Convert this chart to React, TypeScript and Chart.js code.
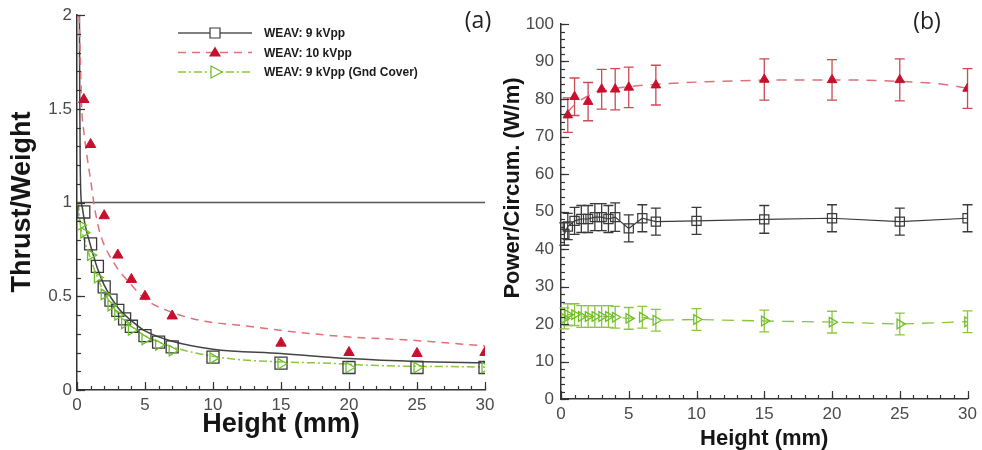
import React, { useEffect, useRef } from "react";
import { Chart, registerables } from "chart.js";

Chart.register(...registerables);

// ---------- Panel (a): Thrust/Weight vs Height ----------
const aBlackX = [0.5, 1, 1.5, 2, 2.5, 3, 3.5, 4, 5, 6, 7, 10, 15, 20, 25, 30];
const aBlackY = [0.95, 0.78, 0.66, 0.55, 0.48, 0.425, 0.38, 0.34, 0.29, 0.255, 0.23, 0.175, 0.143, 0.12, 0.12, 0.12];
const aRedX = [0.5, 1, 2, 3, 4, 5, 7, 15, 20, 25, 30];
const aRedY = [1.55, 1.31, 0.93, 0.72, 0.59, 0.5, 0.395, 0.25, 0.2, 0.195, 0.2];
const aGreenX = [0.25, 0.5, 1, 1.5, 2, 2.5, 3, 3.5, 4, 5, 6, 7, 10, 15, 20, 25, 30];
const aGreenY = [0.88, 0.84, 0.72, 0.6, 0.51, 0.45, 0.4, 0.355, 0.32, 0.27, 0.24, 0.21, 0.17, 0.14, 0.12, 0.12, 0.12];

const aBlackFitX = [0.18, 0.2, 0.23, 0.28, 0.4, 0.6, 1, 1.5, 2, 3, 4, 5, 7, 10, 15, 20, 25, 30];
const aBlackFitY = [2.0, 1.6, 1.25, 1.05, 0.97, 0.88, 0.77, 0.65, 0.56, 0.44, 0.37, 0.315, 0.26, 0.218, 0.195, 0.168, 0.152, 0.145];
const aRedFitX = [0.15, 0.25, 0.35, 0.5, 0.75, 1, 1.3, 1.7, 2.7, 4, 5.1, 6.6, 9, 12, 16, 20, 24.5, 30];
const aRedFitY = [2.0, 1.75, 1.5, 1.38, 1.24, 1.12, 0.97, 0.835, 0.68, 0.56, 0.48, 0.425, 0.372, 0.345, 0.31, 0.283, 0.266, 0.235];
const aGreenFitX = [0.1, 0.25, 0.5, 1, 1.5, 2, 3, 4, 5, 7, 10, 12.3, 15, 18.8, 22.3, 28.4, 30];
const aGreenFitY = [1.0, 0.88, 0.81, 0.7, 0.6, 0.52, 0.41, 0.34, 0.29, 0.23, 0.18, 0.16, 0.15, 0.142, 0.13, 0.124, 0.122];
const aRefX = [0, 30];
const aRefY = [1, 1];

const aXTicks = [0, 5, 10, 15, 20, 25, 30];
const aYTicks = [0, 0.5, 1, 1.5, 2];

const legendLabels = ["WEAV: 9 kVpp", "WEAV: 10 kVpp", "WEAV: 9 kVpp (Gnd Cover)"];

// ---------- Panel (b): Power/Circum. vs Height ----------
const bBlackX = [0.25, 0.5, 1, 1.5, 2, 2.5, 3, 3.5, 4, 5, 6, 7, 10, 15, 20, 25, 30];
const bBlackY = [44, 46, 47.5, 48, 48, 48.5, 48.5, 48, 48.5, 45.5, 48.2, 47.3, 47.5, 47.9, 48.2, 47.3, 48.2];
const bBlackErr = [3, 3.5, 3.6, 3.6, 3.6, 3.6, 3.6, 3.6, 3.8, 3.6, 3.6, 3.6, 3.6, 3.7, 3.6, 3.6, 3.6];
const bGreenX = [0.25, 0.5, 1, 1.5, 2, 2.5, 3, 3.5, 4, 5, 6, 7, 10, 15, 20, 25, 30];
const bGreenY = [21.5, 22.5, 22.5, 22, 22, 22, 22, 22, 21.8, 21.5, 21.8, 21, 21.2, 20.8, 20.5, 20, 20.6];
const bGreenErr = [2.8, 2.9, 2.9, 2.9, 2.9, 2.9, 2.9, 2.9, 2.9, 2.9, 2.9, 2.9, 2.9, 2.9, 2.9, 2.9, 2.9];
const bRedX = [0.5, 1, 2, 3, 4, 5, 7, 15, 20, 25, 30];
const bRedY = [75.7, 80.6, 79.3, 82.6, 82.6, 83.1, 83.7, 85.2, 85.1, 85.1, 82.8];
const bRedErr = [4.6, 5, 5.1, 5.3, 5.5, 5.4, 5.3, 5.5, 5.4, 5.6, 5.3];
const bRedFitX = [0.5, 1, 2, 3, 4, 5, 7, 10, 15, 20, 25, 28, 30];
const bRedFitY = [76.5, 78.5, 80.8, 82, 82.8, 83.3, 83.9, 84.5, 85, 85.1, 84.7, 84, 82.9];

const bXTicks = [0, 5, 10, 15, 20, 25, 30];
const bYTicks = [0, 10, 20, 30, 40, 50, 60, 70, 80, 90, 100];

const zip = (xs: number[], ys: number[]) => xs.map((x, i) => ({ x, y: ys[i] }));

const FONT = "'Liberation Sans', Arial, Helvetica, sans-serif";
const BLACK = "#3a3a3a";
const RED = "#c8102e";
const RED_LINE = "#e0707a";
const GREEN = "#6cbf2a";
const GREEN_LINE = "#8cc63f";

// ---------- plugins ----------
const decorPlugin = {
  id: "decor",
  afterDraw(chart: any, _args: any, opts: any) {
    const { ctx, chartArea: ca, scales } = chart;
    const xs = scales.x;
    const ys = scales.y;
    ctx.save();
    ctx.strokeStyle = "#333";
    ctx.lineWidth = 1.2;
    const tickX = (v: number, len: number) => {
      const p = Math.round(xs.getPixelForValue(v)) + 0.5;
      ctx.beginPath();
      ctx.moveTo(p, ca.bottom);
      ctx.lineTo(p, ca.bottom - len);
      ctx.stroke();
    };
    const tickY = (v: number, len: number) => {
      const p = Math.round(ys.getPixelForValue(v)) + 0.5;
      ctx.beginPath();
      ctx.moveTo(ca.left, p);
      ctx.lineTo(ca.left + len, p);
      ctx.stroke();
    };
    for (let v = xs.min; v <= xs.max + 1e-9; v += opts.xMinor) tickX(v, 4);
    for (let v = ys.min; v <= ys.max + 1e-9; v += opts.yMinor) tickY(v, 4);
    xs.ticks.forEach((t: any) => tickX(t.value, 8));
    ys.ticks.forEach((t: any) => tickY(t.value, 8));

    ctx.fillStyle = "#151515";
    ctx.textAlign = "center";
    ctx.textBaseline = "middle";
    // x title
    ctx.font = `bold ${opts.xTitleSize}px ${FONT}`;
    ctx.fillText(opts.xTitle, (ca.left + ca.right) / 2, opts.xTitleY);
    // y title
    ctx.save();
    ctx.translate(opts.yTitleX, opts.yTitleY);
    ctx.rotate(-Math.PI / 2);
    ctx.font = `bold ${opts.yTitleSize}px ${FONT}`;
    ctx.fillText(opts.yTitle, 0, 0);
    ctx.restore();
    // panel label
    ctx.font = `23px 'Open Sans', 'DejaVu Sans', sans-serif`;
    ctx.fillStyle = "#222";
    ctx.fillText(opts.panel, opts.panelX, opts.panelY);

    if (opts.legend) {
      const L = opts.legend;
      L.items.forEach((it: any, i: number) => {
        const y = L.y0 + i * L.dy;
        ctx.save();
        ctx.strokeStyle = it.lineColor;
        ctx.lineWidth = 1.5;
        ctx.setLineDash(it.dash);
        ctx.beginPath();
        ctx.moveTo(L.x0, y);
        ctx.lineTo(L.x1, y);
        ctx.stroke();
        ctx.setLineDash([]);
        const mx = (L.x0 + L.x1) / 2;
        ctx.lineWidth = 1.2;
        ctx.strokeStyle = it.markerColor;
        ctx.fillStyle = it.markerColor;
        ctx.beginPath();
        if (it.marker === "square") {
          ctx.fillStyle = "#fff";
          ctx.rect(mx - 5, y - 5, 10, 10);
          ctx.fill();
          ctx.stroke();
        } else if (it.marker === "tri") {
          ctx.moveTo(mx, y - 6);
          ctx.lineTo(mx + 6, y + 4);
          ctx.lineTo(mx - 6, y + 4);
          ctx.closePath();
          ctx.fill();
        } else {
          ctx.fillStyle = "#fff";
          ctx.moveTo(mx + 7, y);
          ctx.lineTo(mx - 4, y - 6);
          ctx.lineTo(mx - 4, y + 6);
          ctx.closePath();
          ctx.fill();
          ctx.stroke();
        }
        ctx.restore();
        ctx.fillStyle = "#1a1a1a";
        ctx.textAlign = "left";
        ctx.font = `bold 12px ${FONT}`;
        ctx.fillText(it.text, L.tx, y + 1);
      });
    }
    ctx.restore();
  },
};

const errorBarPlugin = {
  id: "errorBars",
  beforeDatasetsDraw(chart: any) {
    const { ctx, scales } = chart;
    const xs = scales.x;
    const ys = scales.y;
    ctx.save();
    chart.data.datasets.forEach((ds: any) => {
      if (!ds.errorBars) return;
      ctx.strokeStyle = ds.errorColor;
      ctx.lineWidth = 1.3;
      ds.data.forEach((p: any, j: number) => {
        const e = ds.errorBars[j];
        const x = xs.getPixelForValue(p.x);
        const yt = ys.getPixelForValue(p.y + e);
        const yb = ys.getPixelForValue(p.y - e);
        const c = 5;
        ctx.beginPath();
        ctx.moveTo(x, yt);
        ctx.lineTo(x, yb);
        ctx.moveTo(x - c, yt);
        ctx.lineTo(x + c, yt);
        ctx.moveTo(x - c, yb);
        ctx.lineTo(x + c, yb);
        ctx.stroke();
      });
    });
    ctx.restore();
  },
};

const scaleCommon = (min: number, max: number, ticks: number[], pad: number) => ({
  type: "linear" as const,
  min,
  max,
  afterBuildTicks: (s: any) => {
    s.ticks = ticks.map((v) => ({ value: v }));
  },
  ticks: {
    font: { size: 17, family: FONT },
    color: "#4a4a4a",
    padding: pad,
    maxRotation: 0,
    autoSkip: false,
    callback: (v: any) => String(v),
  },
  grid: { display: false, drawTicks: false },
  border: { display: true, color: "#333", width: 1.5 },
});

function leftConfig(): any {
  return {
    type: "scatter",
    data: {
      datasets: [
        {
          data: zip(aGreenX, aGreenY),
          pointStyle: "triangle",
          rotation: 90,
          pointRadius: 6,
          borderColor: GREEN,
          backgroundColor: "rgba(255,255,255,0)",
          borderWidth: 1.3,
          showLine: false,
        },
        {
          data: zip(aBlackX, aBlackY),
          pointStyle: "rect",
          pointRadius: 8.5,
          borderColor: BLACK,
          backgroundColor: "rgba(255,255,255,0)",
          borderWidth: 1.3,
          showLine: false,
        },
        {
          data: zip(aRedX, aRedY),
          pointStyle: "triangle",
          pointRadius: 6,
          borderColor: RED,
          backgroundColor: RED,
          borderWidth: 1,
          showLine: false,
        },
        {
          data: zip(aGreenFitX, aGreenFitY),
          showLine: true,
          pointRadius: 0,
          borderColor: GREEN_LINE,
          borderWidth: 1.5,
          borderDash: [8, 3, 2, 3],
          cubicInterpolationMode: "monotone",
        },
        {
          data: zip(aRedFitX, aRedFitY),
          showLine: true,
          pointRadius: 0,
          borderColor: RED_LINE,
          borderWidth: 1.5,
          borderDash: [8, 6],
          cubicInterpolationMode: "monotone",
        },
        {
          data: zip(aBlackFitX, aBlackFitY),
          showLine: true,
          pointRadius: 0,
          borderColor: "#444",
          borderWidth: 1.5,
          cubicInterpolationMode: "monotone",
        },
        {
          data: zip(aRefX, aRefY),
          showLine: true,
          pointRadius: 0,
          borderColor: "#555",
          borderWidth: 1.5,
        },
      ],
    },
    options: {
      animation: false,
      responsive: false,
      layout: { padding: { left: 0, top: 14, right: 15, bottom: 0 } },
      plugins: {
        legend: { display: false },
        tooltip: { enabled: false },
        decor: {
          xMinor: 1,
          yMinor: 0.1,
          xTitle: "Height (mm)",
          xTitleSize: 27,
          xTitleY: 425,
          yTitle: "Thrust/Weight",
          yTitleSize: 27,
          yTitleX: 23,
          yTitleY: 202,
          panel: "(a)",
          panelX: 478,
          panelY: 21,
          legend: {
            x0: 178,
            x1: 252,
            tx: 264,
            y0: 33,
            dy: 19.5,
            items: [
              { text: legendLabels[0], lineColor: "#555", dash: [], marker: "square", markerColor: BLACK },
              { text: legendLabels[1], lineColor: RED_LINE, dash: [8, 6], marker: "tri", markerColor: RED },
              { text: legendLabels[2], lineColor: GREEN_LINE, dash: [8, 3, 2, 3], marker: "rtri", markerColor: GREEN },
            ],
          },
        },
      },
      scales: {
        x: { ...scaleCommon(0, 30, aXTicks, 5), afterFit: (s: any) => { s.height = 60; } },
        y: { ...scaleCommon(0, 2, aYTicks, 5), afterFit: (s: any) => { s.width = 77; } },
      },
    },
    plugins: [decorPlugin],
  };
}

function rightConfig(): any {
  return {
    type: "scatter",
    data: {
      datasets: [
        {
          data: zip(bRedX, bRedY),
          pointStyle: "triangle",
          pointRadius: 5.5,
          borderColor: RED,
          backgroundColor: RED,
          borderWidth: 1,
          showLine: false,
          errorBars: bRedErr,
          errorColor: "#cc4a55",
        },
        {
          data: zip(bBlackX, bBlackY),
          pointStyle: "rect",
          pointRadius: 6.5,
          borderColor: BLACK,
          backgroundColor: "rgba(255,255,255,0)",
          borderWidth: 1.2,
          showLine: true,
          borderDash: [],
          errorBars: bBlackErr,
          errorColor: "#3a3a3a",
        },
        {
          data: zip(bGreenX, bGreenY),
          pointStyle: "triangle",
          rotation: 90,
          pointRadius: 5.5,
          borderColor: GREEN_LINE,
          pointBorderColor: GREEN,
          backgroundColor: "rgba(255,255,255,0)",
          borderWidth: 1.3,
          showLine: true,
          borderDash: [12, 8],
          errorBars: bGreenErr,
          errorColor: GREEN_LINE,
        },
        {
          data: zip(bRedFitX, bRedFitY),
          showLine: true,
          pointRadius: 0,
          borderColor: RED_LINE,
          borderWidth: 1.5,
          borderDash: [10, 8],
          cubicInterpolationMode: "monotone",
        },
      ],
    },
    options: {
      animation: false,
      responsive: false,
      layout: { padding: { left: 0, top: 24, right: 12, bottom: 0 } },
      plugins: {
        legend: { display: false },
        tooltip: { enabled: false },
        decor: {
          xMinor: 1,
          yMinor: 2,
          xTitle: "Height (mm)",
          xTitleSize: 22,
          xTitleY: 439,
          yTitle: "Power/Circum. (W/m)",
          yTitleSize: 22,
          yTitleX: 22,
          yTitleY: 188,
          panel: "(b)",
          panelX: 436,
          panelY: 22,
        },
      },
      scales: {
        x: { ...scaleCommon(0, 30, bXTicks, 5), afterFit: (s: any) => { s.height = 51; } },
        y: { ...scaleCommon(0, 100, bYTicks, 7), afterFit: (s: any) => { s.width = 70; } },
      },
    },
    plugins: [errorBarPlugin, decorPlugin],
  };
}

export default function App() {
  const leftRef = useRef<HTMLCanvasElement>(null);
  const rightRef = useRef<HTMLCanvasElement>(null);

  useEffect(() => {
    const c1 = new Chart(leftRef.current as HTMLCanvasElement, leftConfig());
    const c2 = new Chart(rightRef.current as HTMLCanvasElement, rightConfig());
    return () => {
      c1.destroy();
      c2.destroy();
    };
  }, []);

  return (
    <div style={{ position: "fixed", left: 0, top: 0, width: 982, height: 450, background: "#fff", overflow: "hidden" }}>
      <canvas ref={leftRef} width={500} height={450} style={{ position: "absolute", left: 0, top: 0, width: 500, height: 450 }} />
      <canvas ref={rightRef} width={491} height={450} style={{ position: "absolute", left: 491, top: 0, width: 491, height: 450 }} />
    </div>
  );
}
